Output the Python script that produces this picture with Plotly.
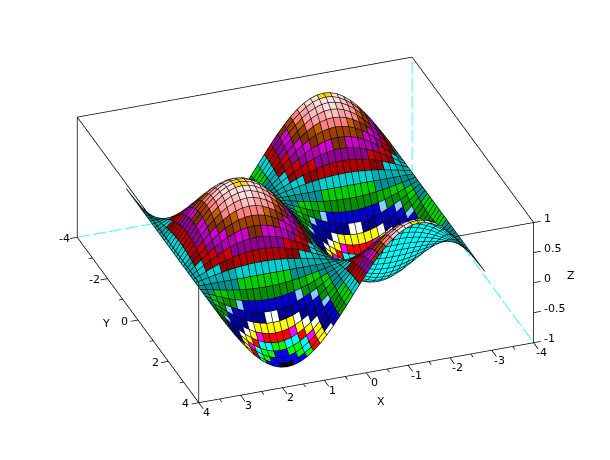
import numpy as np
import plotly.graph_objects as go

z_quadrant = [
    [0, 156, 309, 454, 588, 707, 809, 891, 951, 988, 1000],
    [0, 154, 305, 449, 581, 698, 799, 880, 940, 976, 988],
    [0, 148, 294, 432, 559, 672, 769, 847, 904, 939, 951],
    [0, 139, 275, 405, 524, 630, 721, 794, 847, 880, 891],
    [0, 126, 250, 367, 476, 572, 655, 721, 769, 799, 809],
    [0, 111, 219, 321, 416, 500, 572, 630, 672, 698, 707],
    [0, 92, 182, 267, 345, 416, 476, 524, 559, 581, 588],
    [0, 71, 140, 206, 267, 321, 367, 405, 432, 449, 454],
    [0, 48, 95, 140, 182, 219, 250, 275, 294, 305, 309],
    [0, 24, 48, 71, 92, 111, 126, 139, 148, 154, 156],
    [0, 0, 0, 0, 0, 0, 0, 0, 0, 0, 0],
]
grid_half = [0, 0.157, 0.314, 0.471, 0.628, 0.785, 0.942, 1.1, 1.257, 1.414, 1.571,
             1.728, 1.885, 2.042, 2.199, 2.356, 2.513, 2.67, 2.827, 2.985, 3.142]
x_ticks = [-4, -3, -2, -1, 0, 1, 2, 3, 4]
x_minor = [-3.5, -2.5, -1.5, -0.5, 0.5, 1.5, 2.5, 3.5]
y_ticks = [-4, -2, 0, 2, 4]
y_minor = [-3, -1, 1, 3]
z_ticks = [-1, -0.5, 0, 0.5, 1]
palette = ["#000000", "#0000ff", "#00ff00", "#00ffff", "#ff0000", "#ff00ff", "#ffff00", "#ffffff",
           "#000090", "#0000b0", "#0000d0", "#87ceff", "#009000", "#00b000", "#00d000", "#009090",
           "#00b0b0", "#00d0d0", "#900000", "#b00000", "#d00000", "#900090", "#b000b0", "#d000d0",
           "#803000", "#a04000", "#c06000", "#ff8080", "#ffa0a0", "#ffc0c0", "#ffe0e0", "#ffd700"]
hidden_colour = "#00ffff"

# the axis ranges sit a little outside the drawn box so ticks and edges are not clipped
XY_RANGE = 4.6
Z_RANGE = 1.15
SCALE = np.array([1.0 / 8, 1.0 / 8, 0.388 / 2]) * 1.549
ASPECT = SCALE * np.array([2 * XY_RANGE, 2 * XY_RANGE, 2 * Z_RANGE])
EYE_DIR = np.array([0.2965, 0.8174, 0.494])
EYE_R = 3.0
CENTER = np.array([-0.025, 0.0276, -0.0305])

# mirror the quadrant out to the full 41 x 41 sheet
q = np.array(z_quadrant) / 1000.0
q = np.hstack([q, q[:, -2::-1]])
q = np.vstack([q, -q[-2::-1]])
Z = np.hstack([-q[:, :0:-1], q])
Z = np.vstack([Z[:0:-1], Z])
gx = np.array([-v for v in grid_half[:0:-1]] + grid_half)
gy = gx.copy()
X, Y = np.meshgrid(gx, gy)
n = len(gx)
E = EYE_DIR / np.linalg.norm(EYE_DIR)

vid = lambda r, c: r * n + c
I, J, K, FC = [], [], [], []
for r in range(n - 1):
    for c in range(n - 1):
        d1 = np.array([X[r, c + 1] - X[r, c], 0, Z[r, c + 1] - Z[r, c]]) * SCALE
        d2 = np.array([0, Y[r + 1, c] - Y[r, c], Z[r + 1, c] - Z[r, c]]) * SCALE
        nrm = np.cross(d1, d2)
        m = (Z[r, c] + Z[r, c + 1] + Z[r + 1, c] + Z[r + 1, c + 1]) / 4
        idx = int(round((m + 1) / 2 * 31))
        col = palette[idx] if nrm @ E > 0 else hidden_colour
        I += [vid(r, c), vid(r, c)]
        J += [vid(r, c + 1), vid(r + 1, c + 1)]
        K += [vid(r + 1, c + 1), vid(r + 1, c)]
        FC += [col, col]

fig = go.Figure()
fig.add_trace(go.Mesh3d(x=X.ravel(), y=Y.ravel(), z=Z.ravel(), i=I, j=J, k=K, facecolor=FC,
                        flatshading=True, hoverinfo="skip",
                        lighting=dict(ambient=1, diffuse=0, specular=0, fresnel=0, roughness=1)))

# wireframe, nudged toward the camera so it stays on top of the facets
off = E * 0.006 / SCALE
lx, ly, lz = [], [], []
for r in range(n):
    lx += list(X[r]) + [None]; ly += list(Y[r]) + [None]; lz += list(Z[r]) + [None]
for c in range(n):
    lx += list(X[:, c]) + [None]; ly += list(Y[:, c]) + [None]; lz += list(Z[:, c]) + [None]
lx = [None if v is None else v + off[0] for v in lx]
ly = [None if v is None else v + off[1] for v in ly]
lz = [None if v is None else v + off[2] for v in lz]
fig.add_trace(go.Scatter3d(x=lx, y=ly, z=lz, mode="lines", line=dict(color="black", width=1.3), hoverinfo="skip"))

def segs(pairs, color, width=1.5):
    xs, ys, zs = [], [], []
    for a, b in pairs:
        xs += [a[0], b[0], None]; ys += [a[1], b[1], None]; zs += [a[2], b[2], None]
    fig.add_trace(go.Scatter3d(x=xs, y=ys, z=zs, mode="lines", hoverinfo="skip",
                               line=dict(color=color, width=width)))

def dashes(a, b, count, on=0.76):
    a, b = np.array(a, float), np.array(b, float)
    out = []
    for s in range(count):
        out.append((tuple(a + (b - a) * s / count), tuple(a + (b - a) * (s + on) / count)))
    return out

xa, ya, za = x_ticks[0], y_ticks[0], z_ticks[0]
xb, yb, zb = x_ticks[-1], y_ticks[-1], z_ticks[-1]
solid = [
    ((xb, ya, zb), (xa, ya, zb)), ((xa, ya, zb), (xa, yb, zb)), ((xa, yb, zb), (-2.2, yb, zb)),
    ((xb, ya, zb), (xb, yb, zb)),
    ((xb, yb, za), (xa, yb, za)), ((xb, ya, za), (xb, yb, za)),
    ((xb, ya, za), (xb, ya, zb)), ((xb, yb, za), (xb, yb, zb)), ((xa, yb, za), (xa, yb, zb)),
]
for t in x_ticks:
    solid.append(((t, yb, za), (t, yb + 0.3, za)))
for t in x_minor:
    solid.append(((t, yb, za), (t, yb + 0.15, za)))
for t in y_ticks:
    solid.append(((xb, t, za), (xb + 0.17, t, za)))
for t in y_minor:
    solid.append(((xb, t, za), (xb + 0.09, t, za)))
for t in z_ticks:
    solid.append(((xa, yb, t), (xa - 0.17, yb, t)))
segs(solid, "black")
segs(dashes((xb, ya, za), (xa, ya, za), 21) + dashes((xa, ya, za), (xa, yb, za), 12)
     + dashes((xa, ya, za), (xa, ya, zb), 7), "#00ffff")

ax_common = dict(showgrid=False, zeroline=False, showbackground=False, showspikes=False,
                 showline=False, ticks="", showticklabels=False, title=dict(text=""))
font = dict(family="DejaVu Sans", size=11, color="black")
ann = []
for t in x_ticks:
    ann.append(dict(x=t, y=yb, z=za, text=str(t), showarrow=False, xshift=8, yshift=-10, font=font))
for t in y_ticks:
    ann.append(dict(x=xb, y=t, z=za, text=str(t), showarrow=False, xshift=-13, yshift=-1, font=font))
for t in z_ticks:
    ann.append(dict(x=xa, y=yb, z=t, text=str(t), showarrow=False, xanchor="left", xshift=8, yshift=4, font=font))
ann.append(dict(x=0, y=yb, z=za, text="X", showarrow=False, xshift=15, yshift=-29, font=font))
ann.append(dict(x=xb, y=0, z=za, text="Y", showarrow=False, xshift=-32, yshift=-3, font=font))
ann.append(dict(x=xa, y=yb, z=0, text="Z", showarrow=False, xshift=37, yshift=7, font=font))

eye = CENTER + E * EYE_R
fig.update_layout(
    width=610, height=460, showlegend=False, paper_bgcolor="white",
    margin=dict(l=0, r=0, t=0, b=0),
    scene=dict(
        domain=dict(x=[0, 1], y=[0, 1]),
        xaxis=dict(range=[-XY_RANGE, XY_RANGE], **ax_common),
        yaxis=dict(range=[-XY_RANGE, XY_RANGE], **ax_common),
        zaxis=dict(range=[-Z_RANGE, Z_RANGE], **ax_common),
        aspectmode="manual", aspectratio=dict(x=ASPECT[0], y=ASPECT[1], z=ASPECT[2]),
        camera=dict(eye=dict(x=eye[0], y=eye[1], z=eye[2]),
                    center=dict(x=CENTER[0], y=CENTER[1], z=CENTER[2]), up=dict(x=0, y=0, z=1),
                    projection=dict(type="orthographic")),
        annotations=ann,
    ),
)
fig.write_html("out.html")
